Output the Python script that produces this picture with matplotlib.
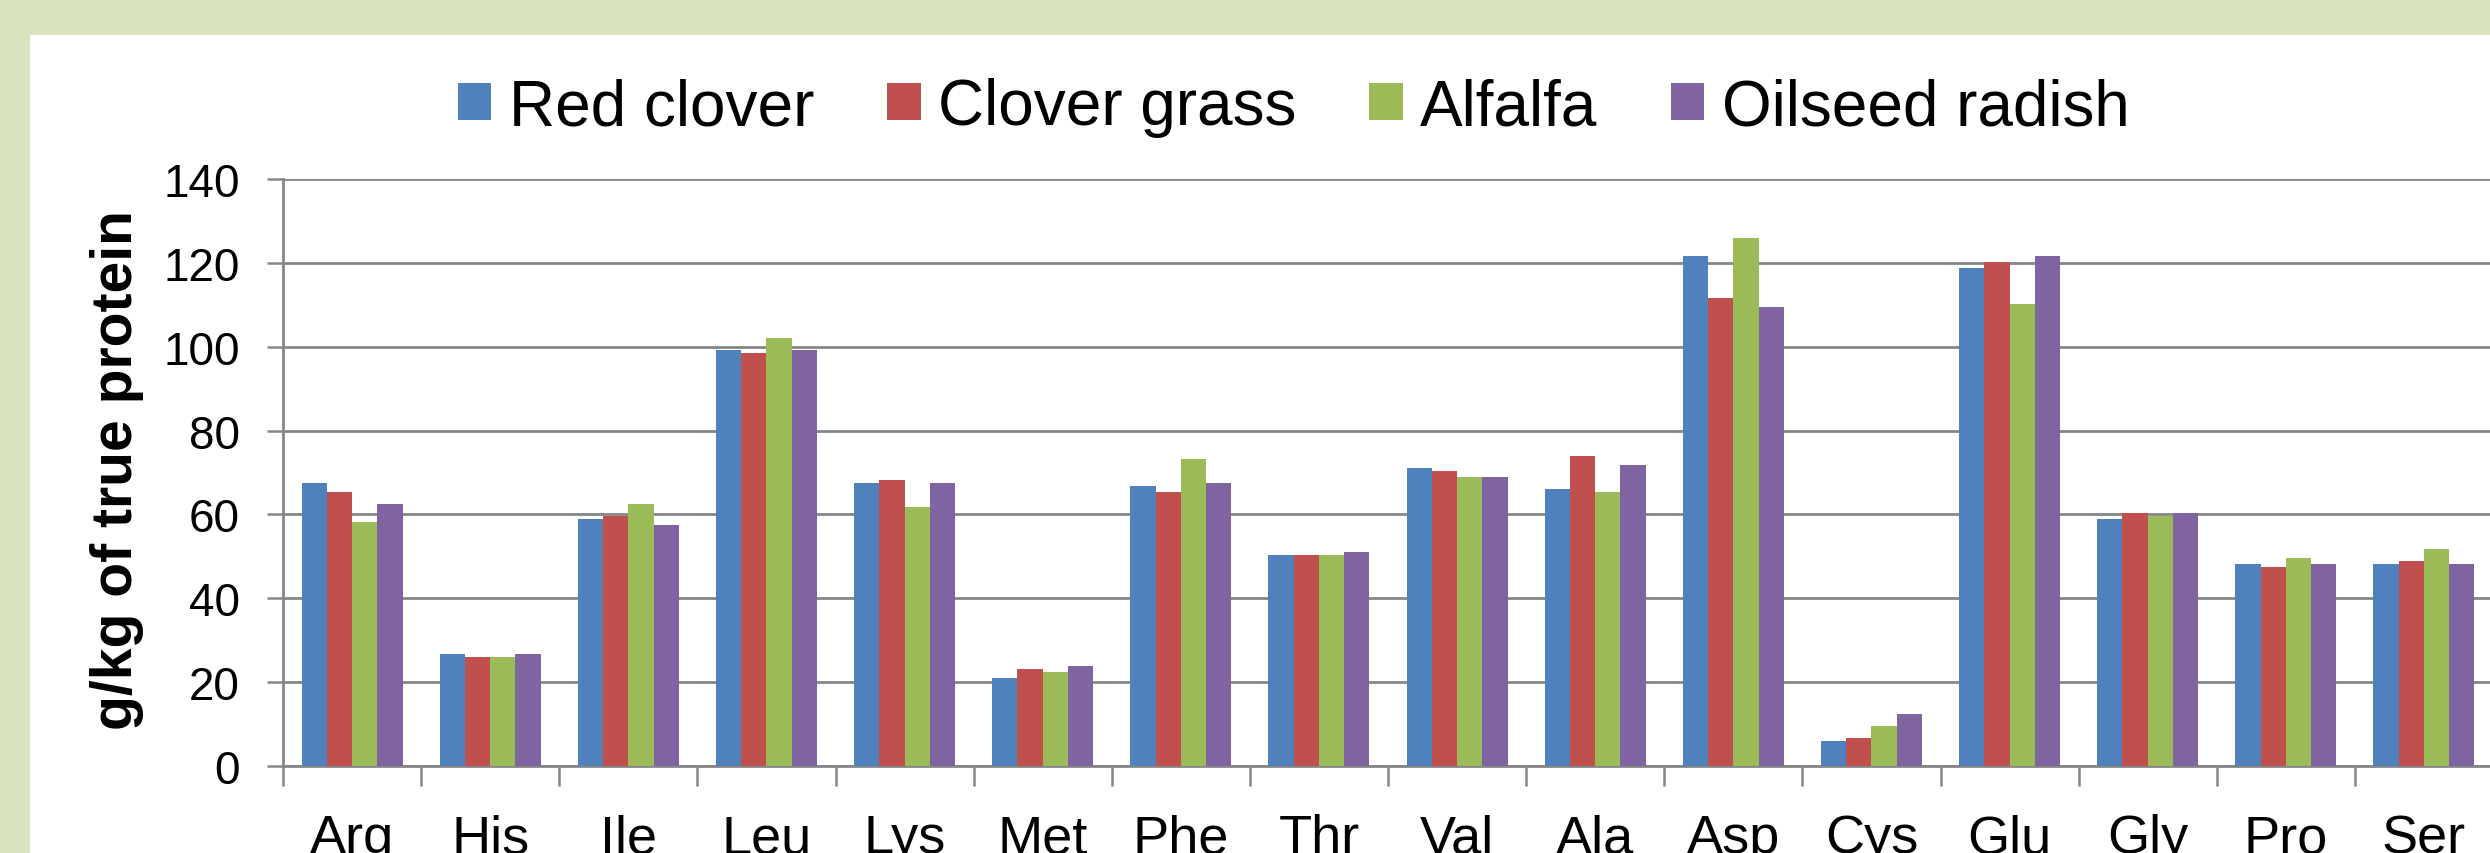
import matplotlib
matplotlib.use("Agg")
import matplotlib.pyplot as plt
from matplotlib.patches import Rectangle
import numpy as np

plt.rcParams['font.family'] = ['Liberation Sans', 'DejaVu Sans']

# amino acids, g/kg of true protein
amino = ["Arg", "His", "Ile", "Leu", "Lys", "Met", "Phe", "Thr",
         "Val", "Ala", "Asp", "Cys", "Glu", "Gly", "Pro", "Ser"]
red_clover = [67.6, 26.7, 58.8, 99.3, 67.6, 21.0, 66.8, 50.3,
              71.1, 66.1, 121.6, 5.9, 118.7, 58.8, 48.2, 48.2]
clover_grass = [65.4, 26.0, 59.6, 98.5, 68.2, 23.1, 65.4, 50.3,
                70.4, 74.0, 111.5, 6.6, 120.1, 60.3, 47.4, 48.9]
alfalfa = [58.2, 26.0, 62.5, 102.1, 61.8, 22.4, 73.3, 50.3,
           68.9, 65.4, 126.0, 9.5, 110.1, 59.6, 49.6, 51.8]
oilseed_radish = [62.5, 26.7, 57.5, 99.3, 67.6, 23.8, 67.6, 51.1,
                  68.9, 71.8, 109.4, 12.4, 121.6, 60.3, 48.2, 48.2]

series = ["Red clover", "Clover grass", "Alfalfa", "Oilseed radish"]
values = [red_clover, clover_grass, alfalfa, oilseed_radish]
colors = ["#4F81BD", "#C0504D", "#9BBB59", "#8064A2"]
grid_c = "#868686"

W, H = 2490, 854
fig = plt.figure(figsize=(W / 100, H / 100), dpi=100)
fig.patch.set_facecolor("#D9E4BF")
# white chart area inside the green frame
fig.patches.append(Rectangle((30 / W, 0), 1, (H - 36) / H, transform=fig.transFigure,
                             facecolor="white", edgecolor="none", zorder=-5))

ax = fig.add_axes([283 / W, (H - 767) / H, 2210 / W, 587 / H])
ax.set_facecolor("white")

x = np.arange(len(amino))
bw = 0.183
for i, (name, vals, c) in enumerate(zip(series, values, colors)):
    ax.bar(x + (i - 1.5) * bw, vals, bw, color=c, label=name, zorder=3,
           edgecolor="none")

ax.set_xlim(-0.5, len(amino) - 0.5)
ax.set_ylim(0, 140)
ax.set_yticks(range(0, 141, 20))
ax.yaxis.grid(True, color=grid_c, linewidth=2.0, zorder=1)
ax.set_axisbelow(True)

for s in ["top", "right"]:
    ax.spines[s].set_visible(False)
for s in ["left", "bottom"]:
    ax.spines[s].set_color(grid_c)
    ax.spines[s].set_linewidth(2.0)

ax.set_xticks(x)
ax.set_xticklabels(amino, fontsize=39)
ax.set_xticks(np.arange(-0.5, len(amino), 1), minor=True)
ax.tick_params(axis="x", which="major", length=0, pad=34)
ax.tick_params(axis="x", which="minor", length=14.4, width=1.8, color=grid_c,
               direction="out")
ax.tick_params(axis="y", length=11.5, width=1.8, color=grid_c, pad=19.5,
               labelsize=33)

fig.text(116.5 / W, (H - 470) / H, "g/kg of true protein", rotation=90,
         ha="center", va="center", fontsize=41, fontweight="bold")

fig.legend(loc="center", bbox_to_anchor=(1293.5 / W, (H - 108) / H), ncol=4,
           fontsize=46, frameon=False, handlelength=0.53, handleheight=0.53,
           handletextpad=0.27, columnspacing=1.14, borderpad=0)

fig.savefig("out.png", dpi=100, facecolor=fig.get_facecolor())
